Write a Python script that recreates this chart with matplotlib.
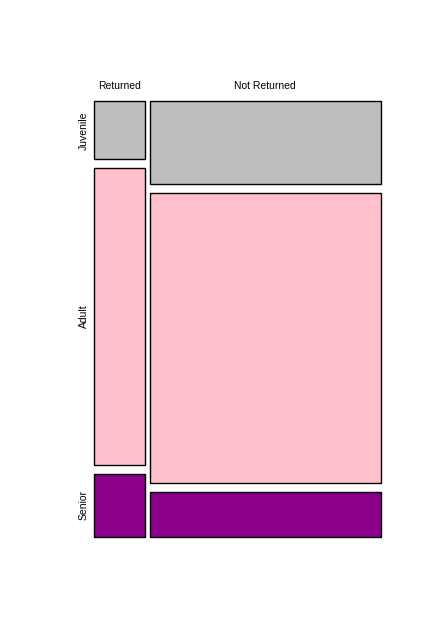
import matplotlib.pyplot as plt
from matplotlib.patches import Rectangle
import numpy as np

plt.rcParams["font.family"] = ["Liberation Sans", "DejaVu Sans"]

columns = ["Returned", "Not Returned"]
rows = ["Juvenile", "Adult", "Senior"]
counts = np.array([
    [25, 163],   # Juvenile
    [128, 570],  # Adult
    [27, 87],    # Senior
])
row_colors = ["#BEBEBE", "#FFC0CB", "#8B008B"]

# plot region in pixels
left, right, top, bottom = 94.3, 380.7, 101.3, 536.7
gap_x, gap_y = 4.6, 9.0

fig = plt.figure(figsize=(4.37, 6.36), dpi=100)
ax = fig.add_axes([0, 0, 1, 1])
ax.set_xlim(0, 437)
ax.set_ylim(636, 0)
ax.axis("off")

col_tot = counts.sum(axis=0)
avail_w = (right - left) - gap_x * (len(columns) - 1)
x = left
for j, col in enumerate(columns):
    w = avail_w * col_tot[j] / col_tot.sum()
    avail_h = (bottom - top) - gap_y * (len(rows) - 1)
    y = top
    for i, row in enumerate(rows):
        h = avail_h * counts[i, j] / col_tot[j]
        ax.add_patch(Rectangle((x, y), w, h, facecolor=row_colors[i],
                               edgecolor="black", linewidth=1.0))
        if j == 0:
            ax.text(84, y + h / 2, row, rotation=90, ha="center", va="center",
                    fontsize=7.5)
        y += h + gap_y
    ax.text(x + w / 2, 86, col, ha="center", va="center", fontsize=7.5)
    x += w + gap_x

fig.savefig("out.png", dpi=100)
